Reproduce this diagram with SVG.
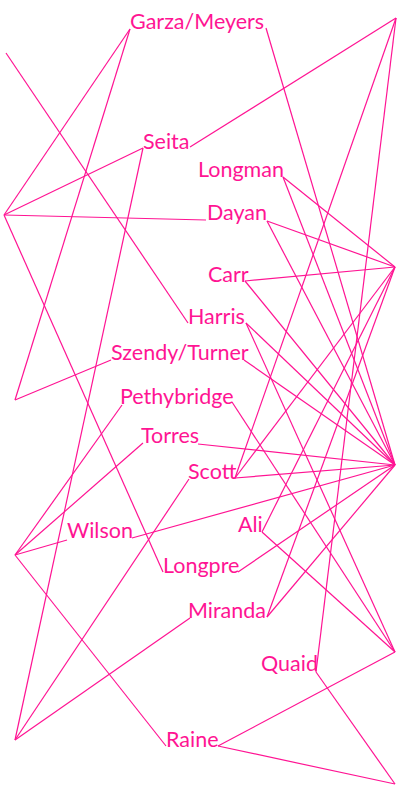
<svg xmlns="http://www.w3.org/2000/svg" width="397" height="792" viewBox="0 0 397 792">
<style>
.lbl{font-family:Lato,"Liberation Sans",sans-serif;font-size:21.5px;fill:#ff1493}
.edges line{stroke:#ff1493;stroke-width:1.2;fill:none}
</style>
<rect width="397" height="792" fill="#ffffff"/>
<g id="connectors" class="edges">
<line x1="6" y1="53" x2="188" y2="323"/>
<line x1="4" y1="215" x2="130" y2="29"/>
<line x1="4" y1="215" x2="143" y2="148"/>
<line x1="4" y1="215" x2="206" y2="220"/>
<line x1="4" y1="215" x2="163" y2="572"/>
<line x1="15" y1="400" x2="130" y2="29"/>
<line x1="15" y1="400" x2="111" y2="360"/>
<line x1="15" y1="555" x2="122" y2="405"/>
<line x1="15" y1="555" x2="143" y2="443"/>
<line x1="15" y1="555" x2="67" y2="540"/>
<line x1="15" y1="555" x2="166" y2="746"/>
<line x1="15" y1="740" x2="143" y2="148"/>
<line x1="15" y1="740" x2="189" y2="479"/>
<line x1="15" y1="740" x2="190" y2="618"/>
<line x1="396" y1="18" x2="190" y2="147"/>
<line x1="396" y1="18" x2="235" y2="478"/>
<line x1="396" y1="18" x2="316" y2="672"/>
<line x1="395" y1="267" x2="283" y2="177"/>
<line x1="395" y1="267" x2="267" y2="221"/>
<line x1="395" y1="267" x2="245" y2="281"/>
<line x1="395" y1="267" x2="235" y2="478"/>
<line x1="395" y1="267" x2="262" y2="532"/>
<line x1="395" y1="267" x2="267" y2="617"/>
<line x1="395" y1="465" x2="266" y2="28"/>
<line x1="395" y1="465" x2="283" y2="177"/>
<line x1="395" y1="465" x2="267" y2="221"/>
<line x1="395" y1="465" x2="245" y2="281"/>
<line x1="395" y1="465" x2="246" y2="323"/>
<line x1="395" y1="465" x2="244" y2="360"/>
<line x1="395" y1="465" x2="198" y2="444"/>
<line x1="395" y1="465" x2="235" y2="478"/>
<line x1="395" y1="465" x2="132" y2="538"/>
<line x1="395" y1="465" x2="238" y2="572"/>
<line x1="395" y1="465" x2="267" y2="617"/>
<line x1="395" y1="652" x2="246" y2="323"/>
<line x1="395" y1="652" x2="232" y2="402"/>
<line x1="395" y1="652" x2="262" y2="532"/>
<line x1="395" y1="652" x2="218" y2="746"/>
<line x1="395" y1="784" x2="316" y2="672"/>
<line x1="395" y1="784" x2="218" y2="746"/>
</g>
<g id="garza-meyers"><text class="lbl" x="130" y="29">Garza/Meyers</text></g>
<g id="seita"><text class="lbl" x="143" y="149">Seita</text></g>
<g id="longman"><text class="lbl" x="198" y="177">Longman</text></g>
<g id="dayan"><text class="lbl" x="207" y="220">Dayan</text></g>
<g id="carr"><text class="lbl" x="208" y="282">Carr</text></g>
<g id="harris"><text class="lbl" x="188" y="324">Harris</text></g>
<g id="szendy-turner"><text class="lbl" x="111" y="360">Szendy/Turner</text></g>
<g id="pethybridge"><text class="lbl" x="120" y="404">Pethybridge</text></g>
<g id="torres"><text class="lbl" x="141" y="443">Torres</text></g>
<g id="scott"><text class="lbl" x="188" y="479">Scott</text></g>
<g id="wilson"><text class="lbl" x="67" y="538">Wilson</text></g>
<g id="ali"><text class="lbl" x="238" y="532">Ali</text></g>
<g id="longpre"><text class="lbl" x="163" y="573">Longpre</text></g>
<g id="miranda"><text class="lbl" x="188" y="618">Miranda</text></g>
<g id="quaid"><text class="lbl" x="261" y="671">Quaid</text></g>
<g id="raine"><text class="lbl" x="166" y="747">Raine</text></g>
</svg>
